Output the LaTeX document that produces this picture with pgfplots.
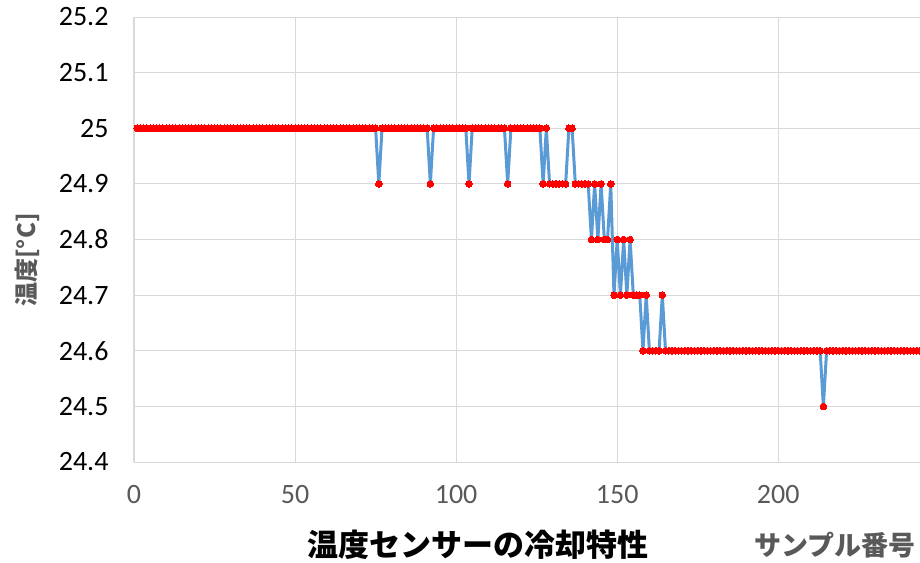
\documentclass[border=0pt]{standalone}
\usepackage{fontspec}
\setmainfont{Carlito}
\newfontfamily\cjk{Noto Sans CJK JP}
\usepackage{pgfplots}
\pgfplotsset{compat=1.18}
\definecolor{lineblue}{HTML}{5B9BD5}
\definecolor{gridgray}{HTML}{D9D9D9}
\definecolor{txtgray}{HTML}{595959}
\begin{document}
\begin{tikzpicture}
\useasboundingbox (0pt,0pt) rectangle (920pt,562pt);
\begin{axis}[
  at={(134pt,100pt)}, anchor=south west,
  scale only axis, width=786pt, height=445pt,
  xmin=0, xmax=244, ymin=24.4, ymax=25.2,
  xtick={0,50,100,150,200},
  ytick={24.4,24.5,24.6,24.7,24.8,24.9,25,25.1,25.2},
  /pgf/number format/assume math mode=true,
  /pgf/number format/fixed,
  grid=major,
  major grid style={draw=gridgray, line width=1pt},
  major tick length=0pt,
  axis x line*=bottom, axis y line*=left,
  x axis line style={draw=none},
  y axis line style={draw=gridgray, line width=1.5pt, -},
  xticklabel style={font=\fontsize{28}{28}\selectfont, text=txtgray, yshift=-20pt},
  yticklabel style={font=\fontsize{28}{28}\selectfont, text=black, xshift=-22pt},
]
\addplot[color=lineblue, line width=3pt, mark=*, mark size=3.3pt, mark options={draw=red, fill=red, line width=0pt}] coordinates {
(1,25) (2,25) (3,25) (4,25) (5,25) (6,25) (7,25) (8,25) (9,25) (10,25)
(11,25) (12,25) (13,25) (14,25) (15,25) (16,25) (17,25) (18,25) (19,25) (20,25)
(21,25) (22,25) (23,25) (24,25) (25,25) (26,25) (27,25) (28,25) (29,25) (30,25)
(31,25) (32,25) (33,25) (34,25) (35,25) (36,25) (37,25) (38,25) (39,25) (40,25)
(41,25) (42,25) (43,25) (44,25) (45,25) (46,25) (47,25) (48,25) (49,25) (50,25)
(51,25) (52,25) (53,25) (54,25) (55,25) (56,25) (57,25) (58,25) (59,25) (60,25)
(61,25) (62,25) (63,25) (64,25) (65,25) (66,25) (67,25) (68,25) (69,25) (70,25)
(71,25) (72,25) (73,25) (74,25) (75,25) (76,24.9) (77,25) (78,25) (79,25) (80,25)
(81,25) (82,25) (83,25) (84,25) (85,25) (86,25) (87,25) (88,25) (89,25) (90,25)
(91,25) (92,24.9) (93,25) (94,25) (95,25) (96,25) (97,25) (98,25) (99,25) (100,25)
(101,25) (102,25) (103,25) (104,24.9) (105,25) (106,25) (107,25) (108,25) (109,25) (110,25)
(111,25) (112,25) (113,25) (114,25) (115,25) (116,24.9) (117,25) (118,25) (119,25) (120,25)
(121,25) (122,25) (123,25) (124,25) (125,25) (126,25) (127,24.9) (128,25) (129,24.9) (130,24.9)
(131,24.9) (132,24.9) (133,24.9) (134,24.9) (135,25) (136,25) (137,24.9) (138,24.9) (139,24.9) (140,24.9)
(141,24.9) (142,24.8) (143,24.9) (144,24.8) (145,24.9) (146,24.8) (147,24.8) (148,24.9) (149,24.7) (150,24.8)
(151,24.7) (152,24.8) (153,24.7) (154,24.8) (155,24.7) (156,24.7) (157,24.7) (158,24.6) (159,24.7) (160,24.6)
(161,24.6) (162,24.6) (163,24.6) (164,24.7) (165,24.6) (166,24.6) (167,24.6) (168,24.6) (169,24.6) (170,24.6)
(171,24.6) (172,24.6) (173,24.6) (174,24.6) (175,24.6) (176,24.6) (177,24.6) (178,24.6) (179,24.6) (180,24.6)
(181,24.6) (182,24.6) (183,24.6) (184,24.6) (185,24.6) (186,24.6) (187,24.6) (188,24.6) (189,24.6) (190,24.6)
(191,24.6) (192,24.6) (193,24.6) (194,24.6) (195,24.6) (196,24.6) (197,24.6) (198,24.6) (199,24.6) (200,24.6)
(201,24.6) (202,24.6) (203,24.6) (204,24.6) (205,24.6) (206,24.6) (207,24.6) (208,24.6) (209,24.6) (210,24.6)
(211,24.6) (212,24.6) (213,24.6) (214,24.5) (215,24.6) (216,24.6) (217,24.6) (218,24.6) (219,24.6) (220,24.6)
(221,24.6) (222,24.6) (223,24.6) (224,24.6) (225,24.6) (226,24.6) (227,24.6) (228,24.6) (229,24.6) (230,24.6)
(231,24.6) (232,24.6) (233,24.6) (234,24.6) (235,24.6) (236,24.6) (237,24.6) (238,24.6) (239,24.6) (240,24.6)
(241,24.6) (242,24.6) (243,24.6) (244,24.6) (245,24.6)
};
\end{axis}
\node[font=\cjk\bfseries\fontsize{31}{31}\selectfont, anchor=center, inner sep=0pt] at (478pt,17pt) {温度センサーの冷却特性};
\node[font=\cjk\bfseries\fontsize{27}{27}\selectfont, text=txtgray, anchor=west, inner sep=0pt] at (754pt,17pt) {サンプル番号};
\node[font=\cjk\bfseries\fontsize{24}{24}\selectfont, text=txtgray, rotate=90, inner sep=0pt] at (27pt,302pt) {温度[°C]};
\end{tikzpicture}
\end{document}
